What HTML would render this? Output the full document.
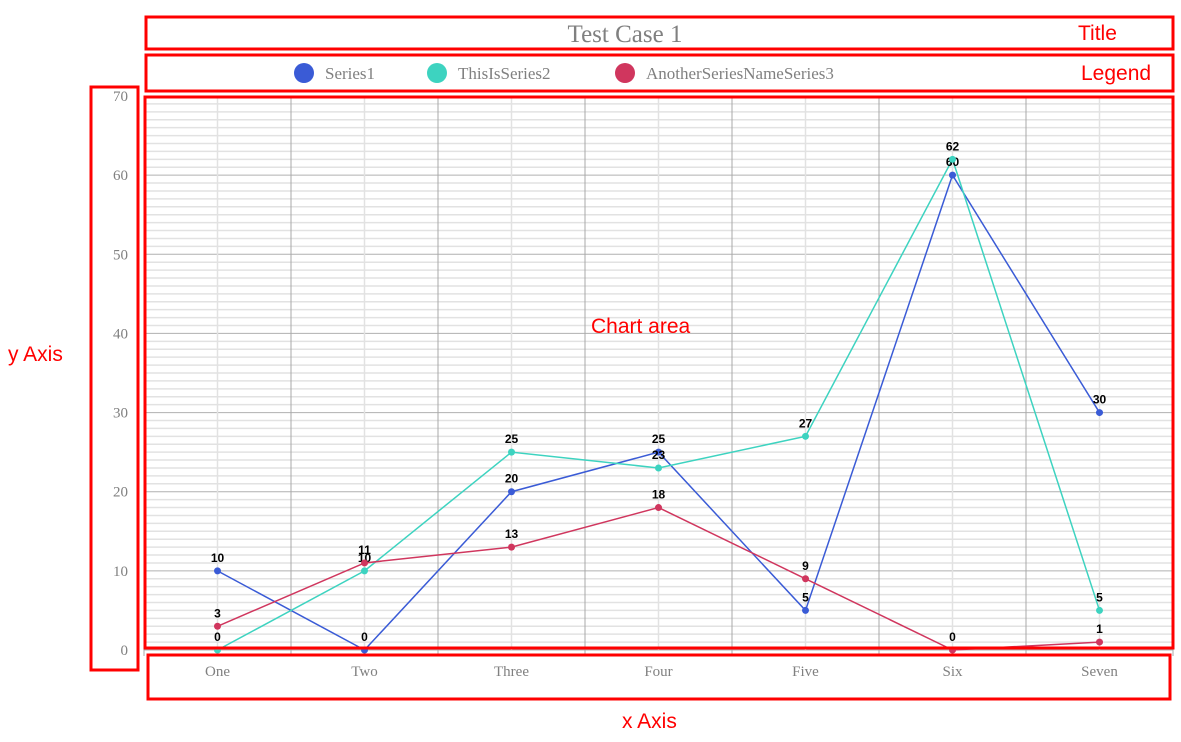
<!DOCTYPE html>
<html><head><meta charset="utf-8"><style>
body{margin:0;background:#fff;width:1181px;height:742px;overflow:hidden}
svg{display:block}
</style></head><body>
<svg id="chart" width="1181" height="742" xmlns="http://www.w3.org/2000/svg">
<g id="grid"></g>
<g id="series"></g>
<g id="axes"></g>
<text x="625" y="42" text-anchor="middle" font-family="Liberation Serif, serif" font-size="25" fill="#808080">Test Case 1</text>
<g id="legend"></g>
<g fill="none" stroke="#ff0000" stroke-width="3">
<rect x="146" y="17" width="1027" height="32"/>
<rect x="146" y="55" width="1027" height="36"/>
<rect x="145" y="97" width="1028" height="551"/>
<rect x="91" y="87" width="47" height="583"/>
<rect x="148" y="655" width="1022" height="44"/>
</g>
<g font-family="Liberation Sans, sans-serif" font-size="21" fill="#ff0000">
<text x="1078" y="40">Title</text>
<text x="1081" y="80">Legend</text>
<text x="591" y="333">Chart area</text>
<text x="8" y="361">y Axis</text>
<text x="622" y="728">x Axis</text>
</g>
</svg>
<script>
const categories=["One","Two","Three","Four","Five","Six","Seven"];
const seriesNames=["Series1","ThisIsSeries2","AnotherSeriesNameSeries3"];
const series1=[10,0,20,25,5,60,30];
const series2=[0,10,25,23,27,62,5];
const series3=[3,11,13,18,9,0,1];
const yTicks=[0,10,20,30,40,50,60,70];
const colors=["#3a5bd6","#3dd3c0","#d0365e"];
const NS="http://www.w3.org/2000/svg";
const L=144,R=1173,T=96,B=650,yMax=70;
const step=(R-L)/categories.length;
function x(i){return L+step*(i+0.5);}
function y(v){return B-(v/yMax)*(B-T);}
function mk(tag,attrs,parent){const e=document.createElementNS(NS,tag);for(const k in attrs)e.setAttribute(k,attrs[k]);parent.appendChild(e);return e;}
const grid=document.getElementById('grid');
for(let v=0;v<=yMax;v++){
  const l=mk('line',{x1:L,x2:R,y1:y(v),y2:y(v),stroke:v%10===0?'#b0b0b0':'#e2e2e2','stroke-width':v%10===0?1:1.5},grid);
  
  
}
for(let i=0;i<=categories.length;i++){
  const b=mk('line',{x1:L+step*i,x2:L+step*i,y1:T,y2:B+6,stroke:'#a8a8a8','stroke-width':1},grid);
  
  
  if(i<categories.length){
    const c=mk('line',{x1:x(i),x2:x(i),y1:T,y2:B,stroke:'#e2e2e2','stroke-width':1.5},grid);
    
    
  }
}
const axes=document.getElementById('axes');
yTicks.forEach(v=>{
  const t=mk('text',{x:128,y:y(v)+5,'text-anchor':'end','font-family':'Liberation Serif, serif','font-size':15,fill:'#808080'},axes);
  t.textContent=v;
  
  
});
categories.forEach((c,i)=>{
  const t=mk('text',{x:x(i),y:676,'text-anchor':'middle','font-family':'Liberation Serif, serif','font-size':15,fill:'#808080'},axes);
  t.textContent=c;
  
  
});
const sg=document.getElementById('series');
[series1,series2,series3].forEach((d,s)=>{
  const p=mk('polyline',{points:d.map((v,i)=>x(i)+','+y(v)).join(' '),fill:'none',stroke:colors[s],'stroke-width':1.5},sg);
  
  
});
[series1,series2,series3].forEach((d,s)=>{
  d.forEach((v,i)=>{
    const c=mk('circle',{cx:x(i),cy:y(v),r:3.5,fill:colors[s]},sg);
    
    
    const t=mk('text',{x:x(i),y:y(v)-9,'text-anchor':'middle','font-family':'Liberation Sans, sans-serif','font-size':12,'font-weight':'bold',fill:'#000'},sg);
    t.textContent=v;
    
    
  });
});
const lg=document.getElementById('legend');
const lx=[304,437,625];
seriesNames.forEach((n,s)=>{
  const c=mk('circle',{cx:lx[s],cy:73,r:10,fill:colors[s]},lg);
  
  
  const t=mk('text',{x:lx[s]+21,y:79,'font-family':'Liberation Serif, serif','font-size':17,fill:'#808080'},lg);
  t.textContent=n;
  
  
});
</script>
</body></html>
